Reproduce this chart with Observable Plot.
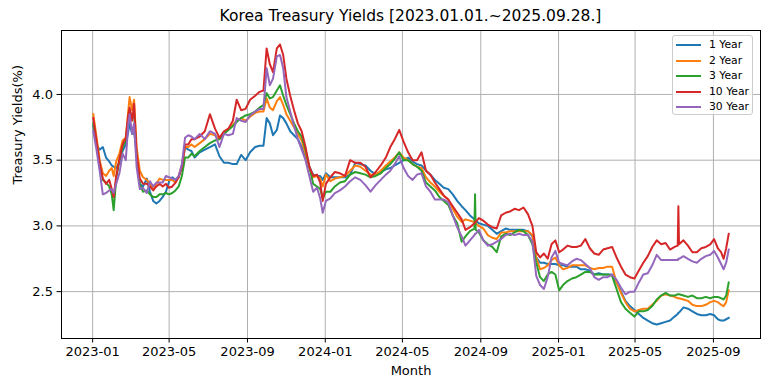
<!DOCTYPE html>
<html>
<head>
<meta charset="utf-8">
<script src="https://cdn.jsdelivr.net/npm/d3@7"></script>
<script src="https://cdn.jsdelivr.net/npm/@observablehq/plot@0.6"></script>
<style>
  html, body { margin: 0; padding: 0; background: #fff; }
  #wrap { position: relative; width: 768px; height: 391px; font-family: "DejaVu Sans", sans-serif; color: #000; }
  #title { box-sizing: border-box; height: 26px; padding-top: 6px; line-height: 20px; padding-left: 61px; padding-right: 8px; text-align: center; font-size: 15.5px; white-space: nowrap; }
  #legend { position: absolute; left: 672px; top: 35px; width: 81px; height: 80px; box-sizing: border-box; border: 1px solid #cccccc; border-radius: 3px; background: rgba(255,255,255,0.8); font-size: 10.8px; }
  .row { position: absolute; left: 0; height: 14px; line-height: 14px; }
  .sw { position: absolute; left: 3px; top: 6px; width: 25px; height: 2px; }
  .lb { position: absolute; left: 36px; top: 0; white-space: nowrap; }
</style>
</head>
<body>
<div id="wrap">
  <div id="title"></div>
  <div id="chart"></div>
  <div id="legend"></div>
</div>
<script>
const titleText = "Korea Treasury Yields [2023.01.01.~2025.09.28.]";
const xLabel = "Month";
const yLabel = "Treasury Yields(%)";
const series = ["1 Year", "2 Year", "3 Year", "10 Year", "30 Year"];
const colors = ["#1f77b4", "#ff7f0e", "#2ca02c", "#d62728", "#9467bd"];
const xTickLabels = ["2023-01","2023-05","2023-09","2024-01","2024-05","2024-09","2025-01","2025-05","2025-09"];
const yTicks = [2.5, 3.0, 3.5, 4.0];

const dates = [
"2023-01-02","2023-01-07","2023-01-12","2023-01-17","2023-01-22","2023-01-27","2023-01-31","2023-02-03","2023-02-07","2023-02-12",
"2023-02-17","2023-02-22","2023-02-26","2023-02-28","2023-03-04","2023-03-07","2023-03-11","2023-03-16","2023-03-21","2023-03-27",
"2023-04-01","2023-04-06","2023-04-11","2023-04-16","2023-04-21","2023-04-26","2023-05-01","2023-05-06","2023-05-11","2023-05-16",
"2023-05-21","2023-05-26","2023-05-31","2023-06-05","2023-06-10","2023-06-18","2023-06-26","2023-07-04","2023-07-12","2023-07-19",
"2023-07-26","2023-08-02","2023-08-09","2023-08-15","2023-08-22","2023-08-29","2023-09-05","2023-09-13","2023-09-20","2023-09-26",
"2023-10-01","2023-10-06","2023-10-11","2023-10-17","2023-10-22","2023-10-27","2023-11-01","2023-11-07","2023-11-13","2023-11-19",
"2023-11-25","2023-12-01","2023-12-07","2023-12-13","2023-12-19","2023-12-24","2023-12-28","2024-01-02","2024-01-09","2024-01-16",
"2024-01-24","2024-02-01","2024-02-09","2024-02-17","2024-02-25","2024-03-04","2024-03-12","2024-03-20","2024-03-28","2024-04-05",
"2024-04-12","2024-04-19","2024-04-26","2024-05-03","2024-05-10","2024-05-17","2024-05-24","2024-05-31","2024-06-07","2024-06-14",
"2024-06-21","2024-06-28","2024-07-05","2024-07-12","2024-07-19","2024-07-26","2024-08-02","2024-08-08","2024-08-15","2024-08-22",
"2024-08-23","2024-08-24","2024-08-29","2024-09-05","2024-09-12","2024-09-19","2024-09-26","2024-10-03","2024-10-10","2024-10-17",
"2024-10-24","2024-10-31","2024-11-07","2024-11-14","2024-11-21","2024-11-27","2024-12-03","2024-12-09","2024-12-15","2024-12-21",
"2024-12-27","2025-01-02","2025-01-08","2025-01-15","2025-01-22","2025-01-29","2025-02-05","2025-02-12","2025-02-19","2025-02-26",
"2025-03-05","2025-03-12","2025-03-19","2025-03-26","2025-04-02","2025-04-09","2025-04-16","2025-04-23","2025-04-30","2025-05-07",
"2025-05-14","2025-05-21","2025-05-28","2025-06-04","2025-06-11","2025-06-18","2025-06-25","2025-07-02","2025-07-07","2025-07-08",
"2025-07-09","2025-07-16","2025-07-23","2025-07-30","2025-08-06","2025-08-13","2025-08-20","2025-08-27","2025-09-02","2025-09-08",
"2025-09-13","2025-09-17","2025-09-21","2025-09-25"
];

const y1 = [
3.76,3.62,3.58,3.60,3.52,3.49,3.46,3.45,3.44,3.48,
3.57,3.62,3.72,3.78,3.70,3.72,3.55,3.32,3.30,3.36,
3.26,3.19,3.17,3.19,3.22,3.26,3.34,3.37,3.35,3.37,
3.45,3.60,3.58,3.57,3.52,3.56,3.58,3.60,3.62,3.53,
3.48,3.48,3.47,3.47,3.54,3.50,3.56,3.60,3.61,3.61,
3.82,3.78,3.69,3.73,3.84,3.82,3.78,3.72,3.69,3.66,
3.60,3.52,3.45,3.39,3.38,3.38,3.35,3.40,3.37,3.37,
3.37,3.37,3.39,3.48,3.47,3.46,3.42,3.39,3.41,3.43,
3.44,3.46,3.48,3.50,3.52,3.49,3.47,3.46,3.42,3.39,
3.35,3.32,3.29,3.28,3.24,3.19,3.15,3.12,3.08,3.05,
3.04,3.04,3.02,3.01,3.00,2.97,2.94,2.96,2.98,2.97,
2.97,2.97,2.97,2.96,2.92,2.76,2.72,2.72,2.71,2.71,
2.71,2.70,2.70,2.69,2.69,2.69,2.67,2.67,2.66,2.63,
2.64,2.63,2.63,2.63,2.57,2.50,2.43,2.39,2.36,2.33,
2.30,2.28,2.26,2.25,2.26,2.27,2.28,2.31,2.33,2.34,
2.34,2.38,2.37,2.35,2.33,2.32,2.32,2.33,2.32,2.29,
2.28,2.28,2.29,2.30
];
const y2 = [
3.85,3.68,3.50,3.40,3.38,3.42,3.44,3.38,3.49,3.55,
3.65,3.67,3.88,3.98,3.88,3.96,3.60,3.42,3.37,3.35,
3.32,3.28,3.32,3.36,3.35,3.35,3.35,3.35,3.33,3.38,
3.46,3.60,3.60,3.62,3.60,3.63,3.66,3.70,3.69,3.66,
3.70,3.74,3.77,3.80,3.82,3.80,3.83,3.86,3.87,3.87,
3.97,3.90,3.88,3.95,3.98,3.92,3.85,3.80,3.75,3.70,
3.65,3.55,3.44,3.37,3.38,3.36,3.30,3.39,3.34,3.36,
3.37,3.38,3.42,3.46,3.45,3.42,3.39,3.39,3.42,3.46,
3.49,3.52,3.56,3.52,3.50,3.47,3.45,3.44,3.37,3.33,
3.30,3.26,3.23,3.20,3.13,3.07,3.03,3.05,3.04,3.03,
3.03,3.02,3.00,2.98,2.93,2.91,2.90,2.95,2.95,2.96,
2.96,2.96,2.96,2.96,2.93,2.76,2.67,2.68,2.70,2.74,
2.76,2.70,2.67,2.68,2.70,2.70,2.70,2.70,2.68,2.67,
2.68,2.68,2.69,2.69,2.57,2.49,2.42,2.37,2.35,2.36,
2.37,2.37,2.40,2.43,2.47,2.48,2.47,2.46,2.45,2.45,
2.45,2.44,2.43,2.40,2.39,2.39,2.40,2.42,2.43,2.42,
2.40,2.39,2.42,2.51
];
const y3 = [
3.78,3.62,3.46,3.35,3.33,3.30,3.24,3.12,3.36,3.50,
3.60,3.65,3.82,3.88,3.82,3.86,3.52,3.32,3.26,3.27,
3.24,3.22,3.22,3.24,3.24,3.25,3.24,3.25,3.27,3.30,
3.38,3.52,3.52,3.55,3.53,3.57,3.60,3.63,3.65,3.66,
3.70,3.73,3.76,3.79,3.82,3.84,3.85,3.87,3.90,3.92,
4.01,3.97,3.98,4.03,4.07,3.99,3.92,3.85,3.78,3.72,
3.68,3.58,3.45,3.32,3.30,3.28,3.21,3.26,3.26,3.30,
3.33,3.34,3.39,3.41,3.40,3.39,3.37,3.38,3.40,3.44,
3.47,3.51,3.56,3.50,3.50,3.47,3.45,3.42,3.33,3.30,
3.27,3.22,3.19,3.16,3.08,3.02,2.88,2.92,2.96,2.98,
3.24,2.97,2.95,2.89,2.86,2.84,2.80,2.92,2.94,2.93,
2.95,2.97,2.96,2.93,2.86,2.72,2.61,2.58,2.63,2.65,
2.63,2.51,2.55,2.58,2.60,2.61,2.63,2.65,2.65,2.63,
2.63,2.63,2.63,2.62,2.52,2.42,2.37,2.34,2.31,2.35,
2.35,2.36,2.39,2.44,2.47,2.49,2.47,2.47,2.48,2.48,
2.48,2.47,2.46,2.47,2.45,2.45,2.46,2.45,2.46,2.46,
2.45,2.44,2.47,2.57
];
const y10 = [
3.82,3.65,3.48,3.36,3.32,3.35,3.28,3.22,3.38,3.51,
3.62,3.67,3.85,3.90,3.80,3.93,3.55,3.36,3.32,3.32,
3.30,3.27,3.30,3.32,3.30,3.32,3.29,3.30,3.33,3.37,
3.45,3.62,3.62,3.66,3.66,3.68,3.72,3.85,3.74,3.67,
3.72,3.74,3.80,3.96,3.88,3.89,3.96,3.99,4.02,4.03,
4.35,4.23,4.17,4.35,4.38,4.30,4.12,3.99,3.88,3.78,
3.72,3.60,3.45,3.38,3.39,3.33,3.19,3.32,3.37,3.41,
3.40,3.38,3.50,3.48,3.48,3.45,3.37,3.41,3.46,3.52,
3.60,3.66,3.73,3.64,3.56,3.50,3.50,3.56,3.42,3.39,
3.33,3.28,3.23,3.20,3.15,3.10,3.05,2.97,2.99,3.02,
3.03,3.03,3.06,3.04,3.01,2.99,2.98,3.08,3.10,3.11,
3.13,3.12,3.14,3.09,3.00,2.80,2.76,2.79,2.75,2.86,
2.89,2.80,2.82,2.85,2.84,2.84,2.85,2.90,2.83,2.79,
2.78,2.82,2.83,2.84,2.76,2.69,2.63,2.61,2.60,2.66,
2.72,2.77,2.84,2.89,2.86,2.87,2.82,2.84,2.85,3.15,
2.86,2.89,2.85,2.80,2.80,2.83,2.84,2.86,2.90,2.83,
2.80,2.75,2.83,2.94
];
const y30 = [
3.72,3.58,3.42,3.24,3.25,3.27,3.28,3.25,3.32,3.40,
3.55,3.50,3.78,3.85,3.70,3.78,3.45,3.28,3.29,3.25,
3.34,3.30,3.33,3.33,3.33,3.38,3.37,3.36,3.35,3.38,
3.47,3.67,3.69,3.68,3.66,3.70,3.66,3.72,3.70,3.60,
3.70,3.69,3.70,3.82,3.80,3.79,3.84,3.87,3.89,3.89,
4.20,4.07,4.12,4.29,4.30,4.20,3.98,3.87,3.76,3.66,
3.58,3.50,3.38,3.26,3.29,3.21,3.10,3.19,3.21,3.25,
3.27,3.30,3.34,3.37,3.35,3.31,3.26,3.31,3.35,3.39,
3.42,3.47,3.53,3.44,3.38,3.35,3.39,3.40,3.30,3.26,
3.20,3.20,3.20,3.18,3.08,2.99,2.92,2.85,2.89,2.93,
2.94,2.94,2.97,2.89,2.85,2.86,2.88,2.90,2.93,2.94,
2.93,2.94,2.93,2.93,2.88,2.62,2.55,2.52,2.61,2.76,
2.81,2.72,2.71,2.70,2.73,2.75,2.74,2.71,2.68,2.61,
2.59,2.61,2.61,2.63,2.59,2.53,2.48,2.50,2.50,2.57,
2.63,2.64,2.70,2.78,2.74,2.74,2.74,2.74,2.74,2.75,
2.75,2.77,2.75,2.73,2.72,2.75,2.77,2.78,2.81,2.76,
2.71,2.67,2.72,2.82
];

const values = [y1, y2, y3, y10, y30];
const parseDay = d3.utcParse("%Y-%m-%d");
const parseMonth = d3.utcParse("%Y-%m");
const rows = series.flatMap((s, i) => dates.map((d, j) => ({date: parseDay(d), value: values[i][j], series: s})));

// matplotlib-style 5% margins
const [x0, x1] = d3.extent(rows, d => d.date);
const xPad = (x1 - x0) * 0.05;
const xDomain = [new Date(+x0 - xPad), new Date(+x1 + xPad)];
const [v0, v1] = d3.extent(rows, d => d.value);
const vPad = (v1 - v0) * 0.05;
const yDomain = [v0 - vPad, v1 + vPad];
const xTicks = xTickLabels.map(parseMonth);

document.getElementById("title").textContent = titleText;

const chart = Plot.plot({
  width: 768,
  height: 365,
  marginTop: 4,
  marginBottom: 53,
  marginLeft: 61,
  marginRight: 8,
  style: {fontFamily: "DejaVu Sans, sans-serif", fontSize: "13px", color: "#000", background: "#fff"},
  x: {type: "utc", domain: xDomain},
  y: {domain: yDomain},
  color: {domain: series, range: colors},
  marks: [
    Plot.gridX(xTicks, {stroke: "#b0b0b0", strokeOpacity: 1, strokeWidth: 1}),
    Plot.gridY(yTicks, {stroke: "#b0b0b0", strokeOpacity: 1, strokeWidth: 1}),
    Plot.line(rows, {x: "date", y: "value", z: "series", stroke: "series", strokeWidth: 2, strokeLinejoin: "round", strokeLinecap: "square"}),
    Plot.frame({stroke: "#000", strokeWidth: 1}),
    Plot.axisX(xTicks, {tickFormat: d3.utcFormat("%Y-%m"), tickSize: 4.5, tickPadding: 4, fontSize: 13, label: null}),
    Plot.axisY(yTicks, {tickFormat: d3.format(".1f"), tickSize: 4.5, tickPadding: 4, fontSize: 13, label: null}),
    Plot.text([xLabel], {text: d => d, frameAnchor: "bottom", dy: 36, fontSize: 13}),
    Plot.text([yLabel], {text: d => d, frameAnchor: "left", dx: -44, rotate: -90, fontSize: 13})
  ]
});
document.getElementById("chart").appendChild(chart);

const legend = document.getElementById("legend");
series.forEach((s, i) => {
  const row = document.createElement("div");
  row.className = "row";
  row.style.top = (2 + i * 15.6) + "px";
  row.style.width = "100%";
  const sw = document.createElement("div");
  sw.className = "sw";
  sw.style.background = colors[i];
  const lb = document.createElement("div");
  lb.className = "lb";
  lb.textContent = s;
  row.appendChild(sw);
  row.appendChild(lb);
  legend.appendChild(row);
});
</script>
</body>
</html>
